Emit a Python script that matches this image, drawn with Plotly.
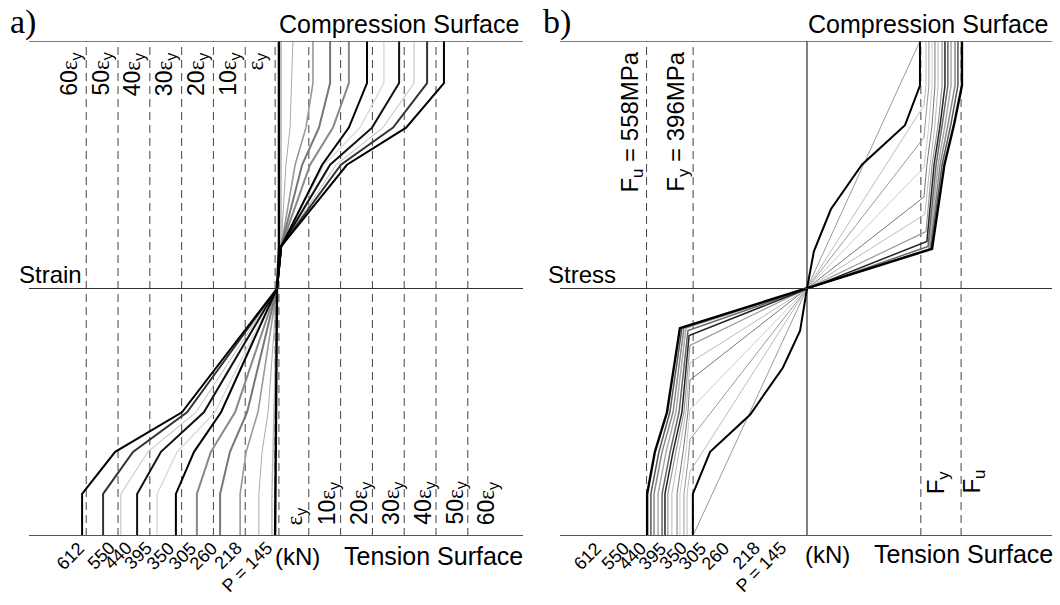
import plotly.graph_objects as go

W, H = 1060, 605
SANS = "Liberation Sans, Arial, sans-serif"
SERIF = "Liberation Serif, Times New Roman, serif"

# ---------------- data: panel a (strain in multiples of eps_y) ----------------
depth_a = [1.0, 0.83, 0.65, 0.5, 0.17, 0.0, -0.5, -0.66, -0.83, -1.0]
strain_curves = [
    [52.5, 52.5, 40.6, 22.0, 1.3, 0, -29.9, -50.9, -61.3, -61.3],
    [47.2, 47.2, 36.5, 20.1, 1.3, 0, -28.3, -45.3, -54.7, -54.7],
    [43.1, 43.1, 33.3, 18.6, 1.3, 0, -25.5, -40.6, -49.1, -49.1],
    [38.4, 38.4, 29.9, 16.7, 1.3, 0, -23.0, -36.5, -44.0, -44.0],
    [33.6, 33.6, 26.1, 14.8, 1.3, 0, -19.5, -31.4, -37.7, -37.7],
    [28.3, 28.3, 22.6, 14.2, 1.3, 0, -17.6, -26.1, -31.8, -31.8],
    [22.6, 22.6, 17.6, 10.4, 1.3, 0, -13.2, -20.8, -25.2, -25.2],
    [16.7, 16.7, 13.2, 7.9, 1.3, 0, -9.4, -14.8, -17.9, -17.9],
    [11.3, 11.3, 9.1, 5.7, 1.3, 0, -6.0, -9.7, -11.6, -11.6],
    [5.0, 4.6, 4.1, 2.8, 1.3, 0, -2.8, -4.7, -5.7, -5.7],
    [1.3, 1.3, 1.3, 1.3, 1.3, 0, -0.9, -1.3, -1.6, -1.6],
    [0.6, 0.6, 0.6, 0.6, 0.6, 0, -0.3, -0.6, -0.6, -0.6],
]
strain_grid_top = [-60, -50, -40, -30, -20, -10, -0.6]
strain_grid_bot = [0.6, 10, 20, 30, 40, 50, 60]
grid_numbers = ["60", "50", "40", "30", "20", "10", ""]
grid_numbers_bot = ["", "10", "20", "30", "40", "50", "60"]

load_labels = ["612", "550", "440", "395", "350", "305", "260", "218", "P = 145"]
load_label_pos_a = [-60.4, -50.9, -45.6, -39.3, -32.1, -25.2, -18.6, -11.0, -1.3]
load_label_pos_b = [-713, -616, -557, -487, -417, -348, -268, -163, -70]

# ---------------- data: panel b (stress in MPa) ----------------
Fy, Fu = 396, 558
Fu_right_line = 536
stress_curves = [
    [539, 539, 511, 478, 435, 0, -442, -487, -529, -556, -556],
    [525, 525, 500, 470, 431, 0, -435, -477, -515, -543, -543],
    [515, 515, 490, 463, 428, 0, -428, -466, -504, -532, -532],
    [501, 501, 480, 456, 424, 0, -421, -456, -490, -518, -518],
    [490, 490, 470, 449, 421, 0, -414, -445, -476, -504, -504],
    [480, 480, 463, 442, 417, 0, -410, -435, -466, -494, -494],
    [470, 470, 456, 435, 414, 0, -407, -428, -456, -484, -484],
    [456, 456, 445, 428, 410, 0, -407, -421, -445, -470, -470],
    [445, 445, 435, 417, 407, 0, -407, -414, -431, -452, -452],
    [435, 435, 424, 407, 0, -407, -421, -442, -442],
    [424, 424, 414, 407, 0, -407, -414, -428, -428],
    [414, 414, 407, 0, -407, -417, -417],
    [393, 393, 341, 191, 83, 24, 0, -24, -84, -198, -337, -397, -397],
    [393, 0, -397],
]
stress_depths = [
    [1, .82, .66, .50, .16, 0, -.16, -.50, -.66, -.83, -1],
    [1, .82, .66, .50, .16, 0, -.16, -.50, -.66, -.83, -1],
    [1, .82, .66, .50, .16, 0, -.16, -.50, -.66, -.83, -1],
    [1, .82, .66, .50, .16, 0, -.16, -.50, -.66, -.83, -1],
    [1, .82, .66, .50, .17, 0, -.17, -.50, -.66, -.83, -1],
    [1, .82, .66, .50, .19, 0, -.19, -.50, -.66, -.83, -1],
    [1, .82, .66, .50, .23, 0, -.23, -.50, -.66, -.83, -1],
    [1, .82, .66, .50, .30, 0, -.30, -.50, -.66, -.83, -1],
    [1, .82, .66, .50, .37, 0, -.37, -.50, -.66, -.83, -1],
    [1, .82, .66, .49, 0, -.49, -.66, -.83, -1],
    [1, .82, .70, .61, 0, -.61, -.70, -.83, -1],
    [1, .82, .74, 0, -.74, -.83, -1],
    [1, .82, .66, .50, .32, .15, 0, -.17, -.32, -.51, -.66, -.83, -1],
    [1, 0, -1],
]

# ---------------- styles ----------------
a_colors = ["#000000", "#333333", "#bbbbbb", "#111111", "#dddddd", "#000000",
            "#888888", "#777777", "#999999", "#aaaaaa", "#bbbbbb", "#000000"]
a_widths = [2, 2, 1, 2, 1.6, 2, 2, 2, 1.6, 1, 1.4, 2.4]
a_order = [4, 2, 9, 10, 8, 6, 7, 1, 3, 5, 0, 11]

b_colors = ["#000000", "#555555", "#888888", "#aaaaaa", "#666666", "#222222",
            "#999999", "#bbbbbb", "#777777", "#cccccc", "#999999", "#bbbbbb",
            "#000000", "#999999"]
b_widths = [2.4, 1.5, 1.5, 1.5, 1.5, 1.5, 1.2, 1, 1, 1, 1, 1, 2, 1]
b_order = [13, 11, 10, 9, 8, 7, 6, 3, 2, 4, 1, 5, 12, 0]

# ---------------- layout geometry ----------------
xa_dom = [29 / W, 523 / W]
xb_dom = [560 / W, 1052 / W]
y_dom = [1 - 536 / H, 1 - 41 / H]
xa_range = [-78.0, 77.36]
xb_range = [-859.1, 852.2]

fig = go.Figure()

for i in a_order:
    fig.add_trace(go.Scatter(
        x=strain_curves[i], y=depth_a, mode="lines", xaxis="x", yaxis="y",
        line=dict(color=a_colors[i], width=a_widths[i]), showlegend=False,
        hoverinfo="skip"))

for i in b_order:
    fig.add_trace(go.Scatter(
        x=stress_curves[i], y=stress_depths[i], mode="lines", xaxis="x2", yaxis="y2",
        line=dict(color=b_colors[i], width=b_widths[i]), showlegend=False,
        hoverinfo="skip"))

shapes = []
DASH = "8px,5px"
for v in strain_grid_top + strain_grid_bot:
    shapes.append(dict(type="line", xref="x", yref="y", x0=v, x1=v, y0=-1, y1=1,
                       line=dict(color="#444", width=1, dash=DASH), layer="below"))
for v in [-Fu, -Fy, Fy, Fu_right_line]:
    shapes.append(dict(type="line", xref="x2", yref="y2", x0=v, x1=v, y0=-1, y1=1,
                       line=dict(color="#444", width=1, dash=DASH), layer="below"))
shapes.append(dict(type="line", xref="x2", yref="y2", x0=0, x1=0, y0=-1, y1=1,
                   line=dict(color="#000", width=1), layer="below"))
for xr, yr in [("x domain", "y"), ("x2 domain", "y2")]:
    for yv, col, wd in [(1, "#555", 1.5), (0, "#333", 1), (-1, "#555", 1.8)]:
        shapes.append(dict(type="line", xref=xr, yref=yr, x0=0, x1=1, y0=yv, y1=yv,
                           line=dict(color=col, width=wd)))


def pann(text, xpx, ypx, xa, ya, size, family=SANS, angle=0):
    return dict(text=text, x=xpx / W, y=1 - ypx / H, xref="paper", yref="paper",
                xanchor=xa, yanchor=ya, showarrow=False, textangle=angle,
                font=dict(family=family, size=size, color="#000"))


EPS = "<span style='font-family:Liberation Serif;font-size:23px'>ε</span><sub>y</sub>"

anns = []
anns.append(pann("a)", 8, 22, "left", "middle", 34, SERIF))
anns.append(pann("b)", 541, 22, "left", "middle", 34, SERIF))
anns.append(pann("Compression Surface", 521, 24, "right", "middle", 25))
anns.append(pann("Compression Surface", 1050, 24, "right", "middle", 25))
anns.append(pann("Strain", 17, 274, "left", "middle", 24))
anns.append(pann("Stress", 546, 274, "left", "middle", 24))
anns.append(pann("Tension Surface", 525, 556, "right", "middle", 25))
anns.append(pann("Tension Surface", 1055, 554, "right", "middle", 25))
anns.append(pann("(kN)", 273, 556, "left", "middle", 24))
anns.append(pann("(kN)", 803, 554, "left", "middle", 24))

for v, num in zip(strain_grid_top, grid_numbers):
    anns.append(dict(text=num + EPS, x=v, y=1 - 50 / H, xref="x", yref="paper",
                     xanchor="right", yanchor="top", xshift=1 if num else -2,
                     showarrow=False, textangle=-90,
                     font=dict(family=SANS, size=23, color="#000")))
for v, num in zip(strain_grid_bot, grid_numbers_bot):
    anns.append(dict(text=num + EPS, x=v, y=1 - 527 / H, xref="x", yref="paper",
                     xanchor="left", yanchor="bottom", xshift=3 if num else 1,
                     showarrow=False, textangle=-90,
                     font=dict(family=SANS, size=23, color="#000")))

for lab, xa, xb in zip(load_labels, load_label_pos_a, load_label_pos_b):
    anns.append(dict(text=lab, x=xa, y=1 - 539 / H, xref="x", yref="paper",
                     xanchor="right", yanchor="top", xshift=6, yshift=4,
                     showarrow=False, textangle=-45,
                     font=dict(family=SANS, size=18, color="#000")))
    anns.append(dict(text=lab, x=xb, y=1 - 539 / H, xref="x2", yref="paper",
                     xanchor="right", yanchor="top", xshift=6, yshift=4,
                     showarrow=False, textangle=-45,
                     font=dict(family=SANS, size=18, color="#000")))

anns.append(dict(text="F<sub>u</sub> = 558MPa", x=-Fu, y=1 - 50 / H, xref="x2", yref="paper",
                 xanchor="right", yanchor="top", xshift=2, showarrow=False, textangle=-90,
                 font=dict(family=SANS, size=24, color="#000")))
anns.append(dict(text="F<sub>y</sub> = 396MPa", x=-Fy, y=1 - 50 / H, xref="x2", yref="paper",
                 xanchor="right", yanchor="top", xshift=2, showarrow=False, textangle=-90,
                 font=dict(family=SANS, size=24, color="#000")))
anns.append(dict(text="F<sub>y</sub>", x=Fy, y=1 - 496 / H, xref="x2", yref="paper",
                 xanchor="left", yanchor="bottom", xshift=-1, showarrow=False, textangle=-90,
                 font=dict(family=SANS, size=24, color="#000")))
anns.append(dict(text="F<sub>u</sub>", x=Fu_right_line, y=1 - 496 / H, xref="x2", yref="paper",
                 xanchor="left", yanchor="bottom", xshift=-6, showarrow=False, textangle=-90,
                 font=dict(family=SANS, size=24, color="#000")))

ax_common = dict(visible=False, showgrid=False, zeroline=False, fixedrange=True)
fig.update_layout(
    width=W, height=H, margin=dict(l=0, r=0, t=0, b=0),
    paper_bgcolor="white", plot_bgcolor="white",
    xaxis=dict(domain=xa_dom, range=xa_range, anchor="y", **ax_common),
    yaxis=dict(domain=y_dom, range=[-1, 1], anchor="x", **ax_common),
    xaxis2=dict(domain=xb_dom, range=xb_range, anchor="y2", **ax_common),
    yaxis2=dict(domain=y_dom, range=[-1, 1], anchor="x2", **ax_common),
    shapes=shapes, annotations=anns, showlegend=False,
    font=dict(family=SANS),
)

fig.write_html("out.html")
